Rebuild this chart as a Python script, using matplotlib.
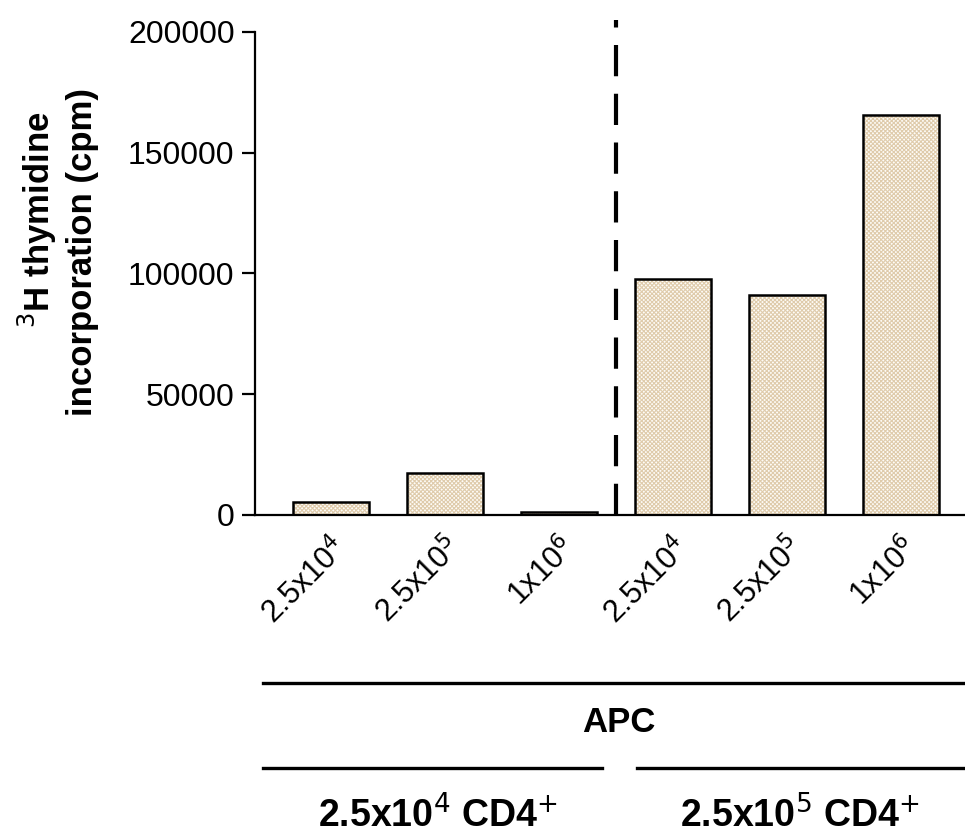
import matplotlib.pyplot as plt
from matplotlib.lines import Line2D

plt.rcParams['font.family'] = ['Liberation Sans', 'DejaVu Sans']
plt.rcParams['hatch.linewidth'] = 0.8

apc_labels = ['2.5x10$^4$', '2.5x10$^5$', '1x10$^6$',
              '2.5x10$^4$', '2.5x10$^5$', '1x10$^6$']
cpm = [5500, 17500, 1200, 97500, 91000, 165500]
cd4_groups = ['2.5x10$^4$ CD4$^{+}$', '2.5x10$^5$ CD4$^{+}$']
y_ticks = [0, 50000, 100000, 150000, 200000]
ylabel_lines = ['$^3$H thymidine', 'incorporation (cpm)']

fig = plt.figure(figsize=(9.65, 8.4), dpi=100)
ax = fig.add_axes([0.264, 0.387, 0.736, 0.575])

pos = list(range(len(cpm)))
# hatch layer in pale tan, outline layer in black
ax.bar(pos, cpm, width=0.667, color='#fefcf7', edgecolor='#dfcbab',
       hatch='x' * 8, linewidth=0, zorder=2)
ax.bar(pos, cpm, width=0.667, fill=False, edgecolor='black',
       linewidth=1.8, zorder=3)

ax.plot([2.5, 2.5], [0, 205000], color='black', lw=3,
        dashes=(7.5, 4.2), clip_on=False, zorder=4)

ax.set_xlim(-0.667, 5.56)
ax.set_ylim(0, 200000)
ax.set_yticks(y_ticks)
ax.set_yticklabels([str(v) for v in y_ticks], fontsize=23)
ax.tick_params(axis='y', length=9.5, width=1.6, pad=5)
ax.tick_params(axis='x', length=0, pad=12)
ax.set_xticks(pos)
ax.set_xticklabels(apc_labels, rotation=45, ha='right',
                   rotation_mode='anchor', fontsize=22)

for s in ['top', 'right']:
    ax.spines[s].set_visible(False)
ax.spines['left'].set_linewidth(1.6)
ax.spines['bottom'].set_linewidth(1.6)

# two-line y label
fig.text(0.039, 0.738, ylabel_lines[0], fontsize=25, fontweight='bold',
         rotation=90, rotation_mode='anchor', ha='center', va='center')
fig.text(0.086, 0.700, ylabel_lines[1], fontsize=25, fontweight='bold',
         rotation=90, rotation_mode='anchor', ha='center', va='center')

# group brackets under the axis
fig.add_artist(Line2D([0.2725, 1.0], [0.187, 0.187], color='black', lw=2.4))
fig.text(0.641, 0.140, 'APC', fontsize=25, fontweight='bold',
         ha='center', va='center')
fig.add_artist(Line2D([0.2725, 0.624], [0.0857, 0.0857], color='black', lw=2.4))
fig.add_artist(Line2D([0.660, 1.0], [0.0857, 0.0857], color='black', lw=2.4))
fig.text(0.454, 0.030, cd4_groups[0], fontsize=27, fontweight='bold',
         ha='center', va='center')
fig.text(0.829, 0.030, cd4_groups[1], fontsize=27, fontweight='bold',
         ha='center', va='center')

fig.savefig('out.png', dpi=100)
